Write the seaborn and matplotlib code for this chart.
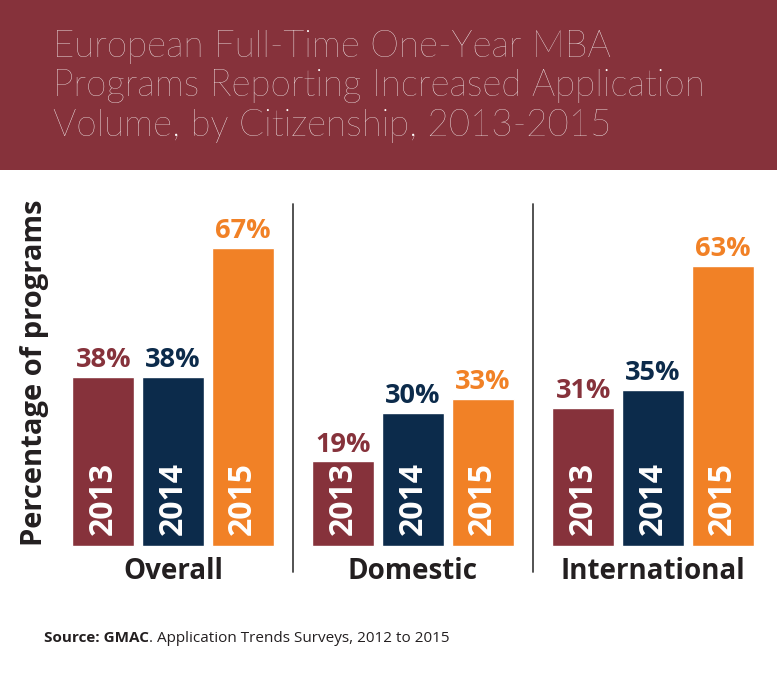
import matplotlib
matplotlib.use('Agg')
import matplotlib.pyplot as plt
from matplotlib.patches import Rectangle
import pandas as pd
import seaborn as sns

# Chart data
groups = ['Overall', 'Domestic', 'International']
years = ['2013', '2014', '2015']
overall = [38, 38, 67]
domestic = [19, 30, 33]
international = [31, 35, 63]

title_lines = ['European Full-Time One-Year MBA',
               'Programs Reporting Increased Application',
               'Volume, by Citizenship, 2013-2015']
y_label = 'Percentage of programs'
source_bold = 'Source: GMAC'
source_rest = '. Application Trends Surveys, 2012 to 2015'

colors = ['#86323b', '#0c2b4b', '#f18126']
dark = '#231f20'
bold_font = 'Open Sans'
light_font = 'Lato'

rows = []
for grp, vals in zip(groups, [overall, domestic, international]):
    for yr, v in zip(years, vals):
        rows.append({'group': grp, 'year': yr, 'value': v})
df = pd.DataFrame(rows)

sns.set_theme(style='white')
plt.rcParams['font.family'] = [bold_font, 'DejaVu Sans']

W, H = 777, 680
fig = plt.figure(figsize=(W / 100, H / 100), dpi=100)
fig.patch.set_facecolor('white')

# axes cover the whole canvas; 240 px per group, ~4.45 px per percent
px_per_unit = 240.0
px_per_pct = 4.45
x0_px, y0_px = 173.0, 546.0
ax = fig.add_axes([0, 0, 1, 1])
sns.barplot(data=df, x='group', y='value', hue='year', order=groups,
            hue_order=years, palette=colors, width=0.87, gap=0.11,
            saturation=1, legend=False, ax=ax)
ax.set_xlim(-x0_px / px_per_unit, (W - x0_px) / px_per_unit)
ax.set_ylim(-(H - y0_px) / px_per_pct, y0_px / px_per_pct)
ax.axis('off')

# value labels above bars, year labels inside bars
for cont, yr, col in zip(ax.containers, years, colors):
    for bar in cont:
        cx = bar.get_x() + bar.get_width() / 2
        h = bar.get_height()
        ax.text(cx, h + 2.2, f'{h:.0f}%', ha='center', va='baseline',
                fontsize=19.5, fontweight='bold', color=col)
        ax.text(cx, 2.4, yr, rotation=90, ha='center', va='bottom',
                fontsize=23, fontweight='bold', color='white')

# category labels
for i, grp in enumerate(groups):
    ax.text(i, -7.4, grp, ha='center', va='baseline', fontsize=20,
            fontweight='bold', color=dark)

# dividers between groups
for xd in [0.5, 1.5]:
    ax.plot([xd, xd], [-5.8, 76.8], color='#444444', lw=1.3)

ax.text(-0.575, 0, y_label, rotation=90, ha='center', va='bottom',
        fontsize=21, fontweight='bold', color=dark)

# header band
band_h = 170 / H
fig.add_artist(Rectangle((0, 1 - band_h), 1, band_h, transform=fig.transFigure,
                         facecolor='#86323b', edgecolor='none', zorder=0))
for line, base in zip(title_lines, [57, 96, 136]):
    fig.text(53 / W, 1 - base / H, line, ha='left', va='baseline',
             fontsize=26.5, fontweight='light',
             family=[light_font, 'DejaVu Sans'], color='white')

# source line: bold part then regular part
renderer = fig.canvas.get_renderer()
t1 = fig.text(44 / W, 1 - 642 / H, source_bold, ha='left', va='baseline',
              fontsize=11, fontweight='bold', color=dark)
bb = t1.get_window_extent(renderer=renderer)
fig.text(bb.x1 / W, 1 - 642 / H, source_rest, ha='left', va='baseline',
         fontsize=11, color=dark)

fig.savefig('out.png', dpi=100, facecolor='white')
